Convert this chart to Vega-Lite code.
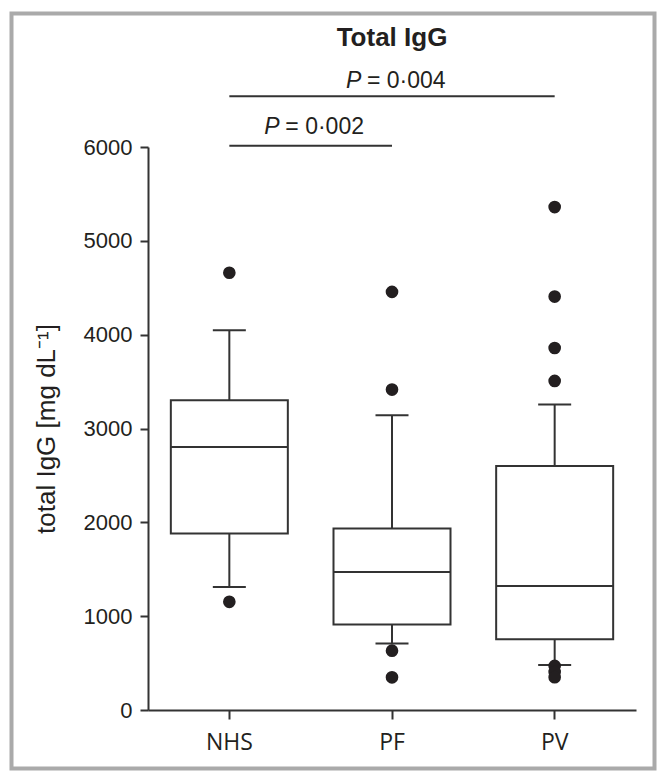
{
  "$schema": "https://vega.github.io/schema/vega-lite/v6.json",
  "autosize": {"type": "none"},
  "padding": {"left": 148, "top": 147, "right": 28, "bottom": 71},
  "width": 488,
  "height": 563,
  "background": "white",
  "title": {"text": "Total IgG", "font": "Liberation Sans", "fontSize": 26, "fontWeight": "bold", "color": "#231f20", "anchor": "middle", "baseline": "alphabetic", "offset": -60},
  "config": {
    "view": {"stroke": null},
    "axis": {"grid": false, "domainColor": "#333333", "domainWidth": 2, "tickColor": "#333333", "tickWidth": 2, "tickSize": 8, "labelColor": "#231f20", "titleColor": "#231f20"}
  },
  "datasets": {
    "box": [
      {"group": "NHS", "lower": 1310, "q1": 1882, "median": 2804, "q3": 3301, "upper": 4047},
      {"group": "PF", "lower": 708, "q1": 912, "median": 1470, "q3": 1935, "upper": 3142},
      {"group": "PV", "lower": 479, "q1": 753, "median": 1322, "q3": 2600, "upper": 3256}
    ],
    "outliers": [
      {"group": "NHS", "value": 4660},
      {"group": "NHS", "value": 1153},
      {"group": "PF", "value": 4456},
      {"group": "PF", "value": 3415},
      {"group": "PF", "value": 632},
      {"group": "PF", "value": 348},
      {"group": "PV", "value": 5360},
      {"group": "PV", "value": 4406},
      {"group": "PV", "value": 3858},
      {"group": "PV", "value": 3507},
      {"group": "PV", "value": 470},
      {"group": "PV", "value": 405},
      {"group": "PV", "value": 350}
    ],
    "brackets": [
      {"from": "NHS", "to": "PV", "level": 6542},
      {"from": "NHS", "to": "PF", "level": 6014}
    ],
    "p004": [{"group": "PF", "level": 6632, "p": "P", "rest": "= 0·004"}],
    "p002": [{"group": "NHS", "level": 6134, "p": "P", "rest": "= 0·002"}]
  },
  "encoding": {
    "x": {"field": "group", "type": "nominal", "sort": ["NHS", "PF", "PV"],
      "scale": {"domain": ["NHS", "PF", "PV"], "paddingInner": 0, "paddingOuter": 0},
      "axis": {"title": null, "labelAngle": 0, "labelFont": "Open Sans", "labelFontSize": 23, "labelPadding": 12, "tickSize": 9}}
  },
  "layer": [
    {
      "data": {"values": [{}]},
      "mark": {"type": "rect", "fill": null, "stroke": "#aaaaaa", "strokeWidth": 4},
      "encoding": {
        "x": {"value": -136.5}, "x2": {"value": 506.5},
        "y": {"value": -133.5}, "y2": {"value": 621.5}
      }
    },
    {
      "data": {"name": "box"},
      "mark": {"type": "rule", "color": "#333333", "strokeWidth": 2},
      "encoding": {
        "y": {"field": "lower", "type": "quantitative",
          "scale": {"domain": [0, 6000], "nice": false},
          "axis": {"values": [0, 1000, 2000, 3000, 4000, 5000, 6000], "format": "d", "labelFont": "Liberation Sans", "labelFontSize": 22, "labelPadding": 8,
            "title": "total IgG [mg dL⁻¹]", "titleFont": "Liberation Sans", "titleFontSize": 26, "titleFontWeight": "normal", "titlePadding": 24}},
        "y2": {"field": "q1"}
      }
    },
    {
      "data": {"name": "box"},
      "mark": {"type": "rule", "color": "#333333", "strokeWidth": 2},
      "encoding": {
        "y": {"field": "q3", "type": "quantitative"},
        "y2": {"field": "upper"}
      }
    },
    {
      "data": {"name": "box"},
      "mark": {"type": "tick", "color": "#333333", "size": 33, "thickness": 2, "opacity": 1},
      "encoding": {"y": {"field": "lower", "type": "quantitative"}}
    },
    {
      "data": {"name": "box"},
      "mark": {"type": "tick", "color": "#333333", "size": 33, "thickness": 2, "opacity": 1},
      "encoding": {"y": {"field": "upper", "type": "quantitative"}}
    },
    {
      "data": {"name": "box"},
      "mark": {"type": "bar", "fill": "white", "stroke": "#333333", "strokeWidth": 2, "size": 117},
      "encoding": {
        "y": {"field": "q1", "type": "quantitative"},
        "y2": {"field": "q3"}
      }
    },
    {
      "data": {"name": "box"},
      "mark": {"type": "tick", "color": "#333333", "size": 117, "thickness": 2, "opacity": 1},
      "encoding": {"y": {"field": "median", "type": "quantitative"}}
    },
    {
      "data": {"name": "outliers"},
      "mark": {"type": "point", "filled": true, "color": "#231f20", "opacity": 1, "size": 160},
      "encoding": {"y": {"field": "value", "type": "quantitative"}}
    },
    {
      "data": {"name": "brackets"},
      "mark": {"type": "rule", "color": "#333333", "strokeWidth": 2},
      "encoding": {
        "x": {"field": "from", "type": "nominal"},
        "x2": {"field": "to"},
        "y": {"field": "level", "type": "quantitative"}
      }
    },
    {
      "data": {"name": "p004"},
      "mark": {"type": "text", "font": "Liberation Sans", "fontSize": 23, "fontStyle": "italic", "align": "left", "baseline": "alphabetic", "dx": -46, "color": "#231f20"},
      "encoding": {"y": {"field": "level", "type": "quantitative"}, "text": {"field": "p"}}
    },
    {
      "data": {"name": "p004"},
      "mark": {"type": "text", "font": "Liberation Sans", "fontSize": 23, "align": "left", "baseline": "alphabetic", "dx": -25, "color": "#231f20"},
      "encoding": {"y": {"field": "level", "type": "quantitative"}, "text": {"field": "rest"}}
    },
    {
      "data": {"name": "p002"},
      "mark": {"type": "text", "font": "Liberation Sans", "fontSize": 23, "fontStyle": "italic", "align": "left", "baseline": "alphabetic", "dx": 35, "color": "#231f20"},
      "encoding": {"y": {"field": "level", "type": "quantitative"}, "text": {"field": "p"}}
    },
    {
      "data": {"name": "p002"},
      "mark": {"type": "text", "font": "Liberation Sans", "fontSize": 23, "align": "left", "baseline": "alphabetic", "dx": 56, "color": "#231f20"},
      "encoding": {"y": {"field": "level", "type": "quantitative"}, "text": {"field": "rest"}}
    }
  ]
}
